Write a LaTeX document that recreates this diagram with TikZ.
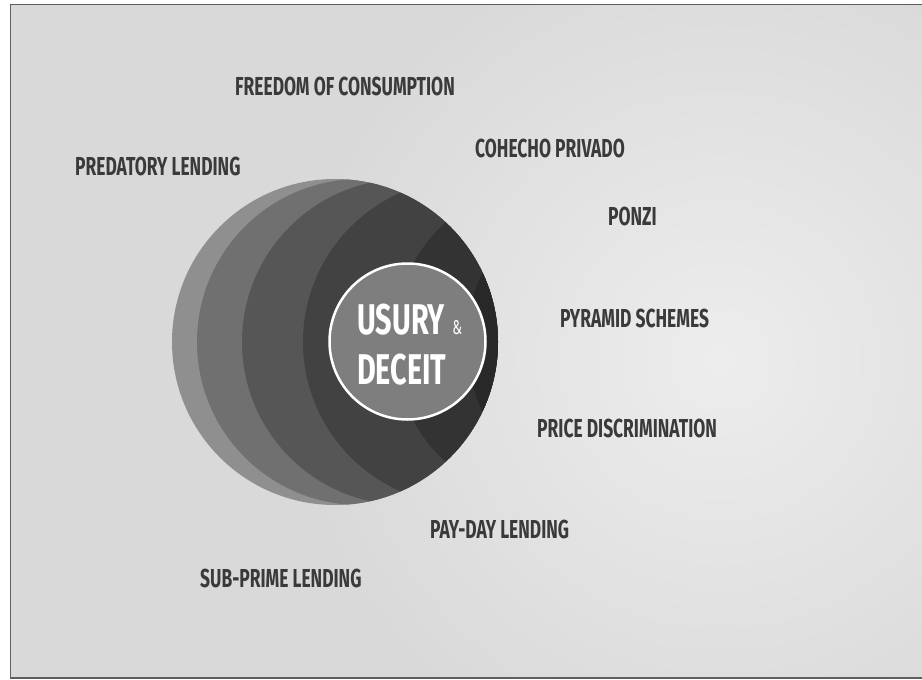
\documentclass[tikz,border=0pt]{standalone}
\usepackage{fontspec}
\newfontfamily\lblfont[FakeStretch=0.67]{Fira Sans}
\usetikzlibrary{positioning}
\definecolor{bgdark}{HTML}{D9D9D9}
\definecolor{bglight}{HTML}{EDEDED}
\definecolor{framegray}{HTML}{5E5E5E}
\definecolor{txtgray}{HTML}{3A3A3A}
\definecolor{layA}{HTML}{8F8F8F}
\definecolor{layB}{HTML}{707070}
\definecolor{layC}{HTML}{565656}
\definecolor{layD}{HTML}{424242}
\definecolor{layE}{HTML}{333333}
\definecolor{layF}{HTML}{282828}
\definecolor{coregray}{HTML}{7E7E7E}

\begin{document}
\begin{tikzpicture}[x=1pt,y=-1pt,
  lbl/.style={anchor=west,inner sep=0pt,text=txtgray,font=\lblfont\fontsize{26}{26}\selectfont\bfseries},
  corelbl/.style={anchor=west,inner sep=0pt,text=white,font=\lblfont\fontsize{43}{43}\selectfont\bfseries}]
	\useasboundingbox (0,0) rectangle (922,680);
	% backdrop and frame
	\begin{scope}
		\clip (10,4) rectangle (923,678);
		\fill[bgdark] (10,4) rectangle (923,678);
		\shade[inner color=bglight,outer color=bgdark] (720,360) circle (430);
	\end{scope}
	\draw[framegray,line width=1.2pt] (10.5,4.5) rectangle (924,678);
	
	% stacked discs, shifted to the right
	\def\R{163}
	\begin{scope}
		\clip (335,342) circle (\R);
		\foreach \d/\c in {0/layA,25/layB,70/layC,131/layD,221/layE,295/layF}
			\fill[\c] (335+\d,342) circle (\R);
	\end{scope}
	\node[circle,draw=white,line width=2.5pt,fill=coregray,minimum size=156pt,inner sep=0pt] at (407.5,341.5) (core) {};
	\node[corelbl] at (357,320) (usury) {USURY};
	\node[base right=7pt of usury,inner sep=0pt,text=white,font=\lblfont\fontsize{20}{20}\selectfont] (amp) {\&};
	\node[corelbl] at (357,370) (deceit) {DECEIT};
	
	% labels round the discs
	\node[lbl] at (235,86) (freedom) {FREEDOM OF CONSUMPTION};
	\node[lbl] at (475,148) (cohecho) {COHECHO PRIVADO};
	\node[lbl] at (75,166) (predatory) {PREDATORY LENDING};
	\node[lbl] at (608,216) (ponzi) {PONZI};
	\node[lbl] at (560,318) (pyramid) {PYRAMID SCHEMES};
	\node[lbl] at (537,428) (pricedisc) {PRICE DISCRIMINATION};
	\node[lbl] at (430,529) (payday) {PAY-DAY LENDING};
	\node[lbl] at (200,578) (subprime) {SUB-PRIME LENDING};
\end{tikzpicture}
\end{document}
